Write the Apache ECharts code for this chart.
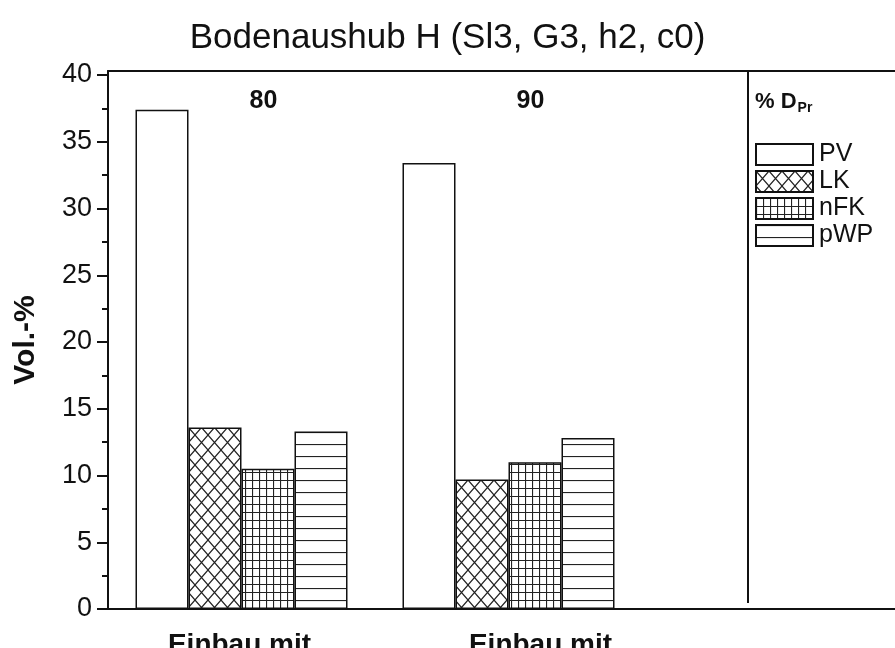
<!DOCTYPE html>
<html>
<head>
<meta charset="utf-8">
<script src="https://cdn.jsdelivr.net/npm/echarts@6/dist/echarts.min.js"></script>
<style>
html,body{margin:0;padding:0;background:#fff;}
#chart{width:895px;height:648px;}
</style>
</head>
<body>
<div id="chart"></div>
<script>
// ---- data ----
const categories = ['Einbau mit', 'Einbau mit'];
const topLabels = ['80', '90'];
const seriesNames = ['PV', 'LK', 'nFK', 'pWP'];
const PV  = [37.4, 33.4];
const LK  = [13.6, 9.7];
const nFK = [10.5, 11.0];
const pWP = [13.3, 12.8];
const yTicks = [0, 5, 10, 15, 20, 25, 30, 35, 40];
const yMinorTicks = [2.5, 7.5, 12.5, 17.5, 22.5, 27.5, 32.5, 37.5];

// ---- patterns ----
function makePattern(type) {
  const c = document.createElement('canvas');
  const ctx = c.getContext('2d');
  let w = 10, h = 10;
  if (type === 'cross') { w = 13; h = 15; }
  if (type === 'grid') { w = 7; h = 8; }
  if (type === 'hline') { w = 10; h = 12; }
  c.width = w; c.height = h;
  ctx.fillStyle = '#fff';
  ctx.fillRect(0, 0, w, h);
  ctx.strokeStyle = '#222';
  ctx.lineWidth = 1.2;
  ctx.beginPath();
  if (type === 'cross') {
    ctx.moveTo(0, 0); ctx.lineTo(w, h);
    ctx.moveTo(w, 0); ctx.lineTo(0, h);
  } else if (type === 'grid') {
    ctx.moveTo(0.5, 0); ctx.lineTo(0.5, h);
    ctx.moveTo(0, 0.5); ctx.lineTo(w, 0.5);
  } else if (type === 'hline') {
    ctx.moveTo(0, 0.5); ctx.lineTo(w, 0.5);
  }
  ctx.stroke();
  return { image: c, repeat: 'repeat' };
}
const fills = ['#ffffff', makePattern('cross'), makePattern('grid'), makePattern('hline')];
const values = [PV, LK, nFK, pWP];

const chart = echarts.init(document.getElementById('chart'), null, { renderer: 'canvas' });
const font = 'Liberation Sans, Arial, Helvetica, sans-serif';
const gridLeft = 108, gridTop = 71, gridBottom = 39, bandW = 267;
const yMax = 40.3;

const option = {
  backgroundColor: '#fff',
  animation: false,
  textStyle: { fontFamily: font, color: '#111' },
  title: [
    { text: 'Bodenaushub H (Sl3, G3, h2, c0)', left: 'center', top: 21, padding: 0,
      textStyle: { fontFamily: font, fontSize: 35, fontWeight: 'normal', color: '#111' } },
    { text: '{a|% D}{b|Pr}', left: 755, top: 89, padding: 0,
      textStyle: { rich: {
        a: { fontFamily: font, fontSize: 22, fontWeight: 'bold', color: '#111' },
        b: { fontFamily: font, fontSize: 14, fontWeight: 'bold', color: '#111', verticalAlign: 'bottom', padding: [12, 0, 0, 1] }
      } } }
  ],
  legend: {
    orient: 'vertical', left: 755, top: 142, padding: 0, itemWidth: 57, itemHeight: 21, itemGap: 2,
    icon: 'rect', data: seriesNames,
    textStyle: { fontFamily: font, fontSize: 25, color: '#111', lineHeight: 21, padding: [0, 0, 0, 1] }
  },
  grid: { left: gridLeft, top: gridTop, bottom: gridBottom, width: bandW * 3, outerBoundsMode: 'none', containLabel: false },
  xAxis: [
    { type: 'category', data: categories.concat(['']), position: 'bottom',
      axisLine: { onZero: false, lineStyle: { color: '#111', width: 2 } }, axisTick: { show: false },
      axisLabel: { margin: 22, fontFamily: font, fontSize: 28, fontWeight: 'bold', color: '#111',
        formatter: (v, i) => i === 1 ? '{s|' + v + '}' : '{n|' + v + '}',
        rich: { n: { fontFamily: font, fontSize: 28, fontWeight: 'bold', color: '#111', padding: [0, 4, 0, 0] },
                s: { fontFamily: font, fontSize: 28, fontWeight: 'bold', color: '#111', padding: [0, 0, 0, 64] } } } },
    { type: 'category', data: topLabels.concat(['']), position: 'top',
      axisLine: { show: true, onZero: false, lineStyle: { color: '#111', width: 2 } }, axisTick: { show: false },
      axisLabel: { inside: true, margin: 18, fontFamily: font, fontSize: 25, fontWeight: 'bold', color: '#111',
        padding: [0, 0, 0, 44] } }
  ],
  yAxis: [
    { type: 'value', min: 0, max: yMax,
      name: 'Vol.-%', nameLocation: 'middle', nameRotate: 90, nameGap: 67,
      nameTextStyle: { fontFamily: font, fontSize: 30, fontWeight: 'bold', color: '#111' },
      axisLine: { show: true, onZero: false, lineStyle: { color: '#111', width: 2 } },
      axisTick: { show: true, length: 11, customValues: yTicks, lineStyle: { color: '#111', width: 2 } },
      splitLine: { show: false },
      axisLabel: { margin: 16, customValues: yTicks, fontFamily: font, fontSize: 27, color: '#111' } },
    { type: 'value', min: 0, max: yMax, position: 'left',
      axisLine: { show: false, onZero: false },
      axisTick: { show: true, length: 6, customValues: yMinorTicks, lineStyle: { color: '#111', width: 2 } },
      splitLine: { show: false },
      axisLabel: { show: false } }
  ],
  series: seriesNames.map((n, k) => ({
    name: n, type: 'bar', xAxisIndex: 0, yAxisIndex: 0, barWidth: 53, barGap: '0%',
    data: values[k],
    itemStyle: { color: fills[k], borderColor: '#111', borderWidth: 1.5 }
  })),
  graphic: [
    { type: 'line', shape: { x1: 748, y1: gridTop, x2: 748, y2: 603 },
      style: { stroke: '#111', lineWidth: 2 } }
  ]
};
chart.setOption(option);
</script>
</body>
</html>
